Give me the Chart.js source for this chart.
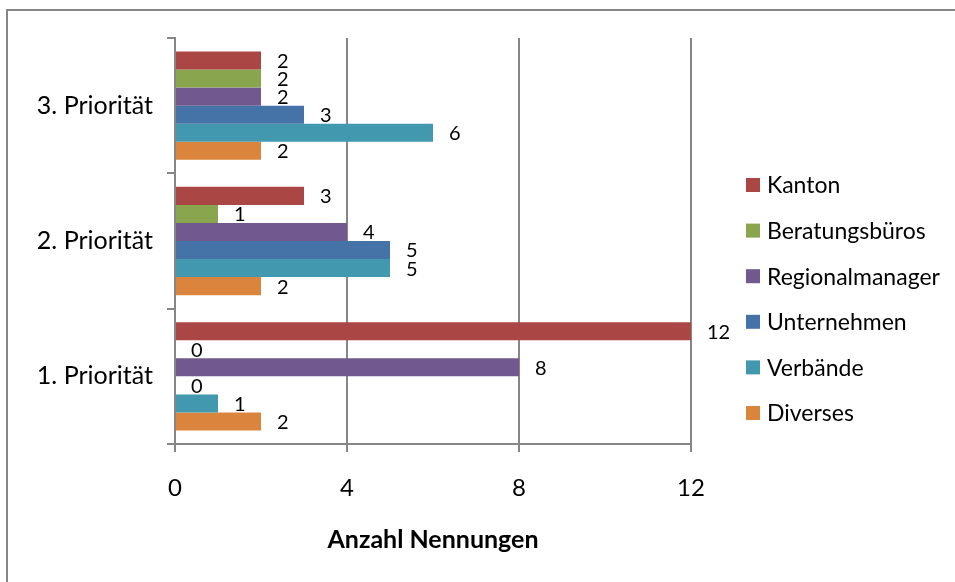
<!DOCTYPE html>
<html>
<head>
<meta charset="utf-8">
<title>Anzahl Nennungen</title>
<script src="https://cdn.jsdelivr.net/npm/chart.js@4.4.1/dist/chart.umd.min.js"></script>
<style>
html,body{margin:0;padding:0;background:#fff;overflow:hidden;width:955px;height:582px;}
#frame{position:absolute;left:6px;top:9px;width:1000px;height:1000px;border-left:2px solid #868686;border-top:2px solid #868686;}
#chart{position:absolute;left:0;top:0;}
</style>
</head>
<body>

<div id="frame"></div>
<canvas id="chart" width="955" height="582"></canvas>

<script>

// =========================
// Data
// =========================

const categories = ["3. Priorität","2. Priorität","1. Priorität"];

const seriesNames = ["Kanton","Beratungsbüros","Regionalmanager","Unternehmen","Verbände","Diverses"];

const kanton          = [2,3,12];
const beratungsbueros = [2,1,0];
const regionalmanager = [2,4,8];
const unternehmen     = [3,5,0];
const verbaende       = [6,5,1];
const diverses        = [2,2,2];

const xTicks = [0,4,8,12];

const seriesColors = ["#AA4643","#89A54E","#71588F","#4572A7","#4198AF","#DB843D"];

const axisTitle = "Anzahl Nennungen";


// =========================
// Style
// =========================

const FONT = "Lato";
const GRID = "#868686";


// =========================
// Value Labels
// =========================

const valueLabels = {

    id:"valueLabels",

    afterDatasetsDraw(chart){

        const ctx = chart.ctx;

        ctx.save();
        ctx.font = "20px " + FONT;
        ctx.fillStyle = "#000";
        ctx.textAlign = "left";
        ctx.textBaseline = "middle";

        chart.data.datasets.forEach((ds,i)=>{

            chart.getDatasetMeta(i).data.forEach((bar,j)=>{

                ctx.fillText(String(ds.data[j]), bar.x + 16, bar.y + 1);

            });

        });

        ctx.restore();

    }

};


// =========================
// Legend (right side)
// =========================

const sideLegend = {

    id:"sideLegend",

    afterDraw(chart){

        const ctx = chart.ctx;
        const left = chart.chartArea.right + 55;
        let y = chart.chartArea.top + 147;

        ctx.save();
        ctx.font = "23px " + FONT;
        ctx.textAlign = "left";
        ctx.textBaseline = "middle";

        chart.data.datasets.forEach(ds=>{

            ctx.fillStyle = ds.backgroundColor;
            ctx.fillRect(left, y - 7, 14, 14);

            ctx.fillStyle = "#000";
            ctx.fillText(ds.label, left + 21, y + 1);

            y += 45.6;

        });

        ctx.restore();

    }

};


// =========================
// Chart
// =========================

const seriesData = [kanton,beratungsbueros,regionalmanager,unternehmen,verbaende,diverses];

const ctx = document.getElementById("chart").getContext("2d");

const chart = new Chart(ctx,{

    type:"bar",

    data:{

        labels:categories,

        datasets:seriesNames.map((name,i)=>({
            label:name,
            data:seriesData[i],
            backgroundColor:seriesColors[i],
            borderWidth:0,
            categoryPercentage:0.8,
            barPercentage:1.0
        }))

    },

    options:{

        indexAxis:"y",

        responsive:false,

        animation:false,

        layout:{
            padding:{top:38,right:264,bottom:0,left:0}
        },

        plugins:{
            legend:{display:false},
            tooltip:{enabled:false}
        },

        scales:{

            x:{
                min:xTicks[0],
                max:xTicks[xTicks.length-1],
                ticks:{
                    stepSize:xTicks[1]-xTicks[0],
                    color:"#000",
                    font:{family:FONT,size:24},
                    padding:22
                },
                grid:{color:GRID,lineWidth:2,tickLength:8},
                border:{color:GRID,width:2},
                title:{
                    display:true,
                    text:axisTitle,
                    color:"#000",
                    font:{family:FONT,size:25,weight:"bold"},
                    padding:{top:0,bottom:27}
                },
                afterFit(scale){ scale.height = 138; }
            },

            y:{
                ticks:{
                    color:"#000",
                    font:{family:FONT,size:25},
                    padding:14
                },
                grid:{
                    color:GRID,
                    lineWidth:2,
                    tickLength:8,
                    offset:true,
                    drawOnChartArea:false
                },
                border:{color:GRID,width:2},
                afterFit(scale){ scale.width = 175; }
            }

        }

    },

    plugins:[valueLabels,sideLegend]

});

</script>
</body>
</html>
